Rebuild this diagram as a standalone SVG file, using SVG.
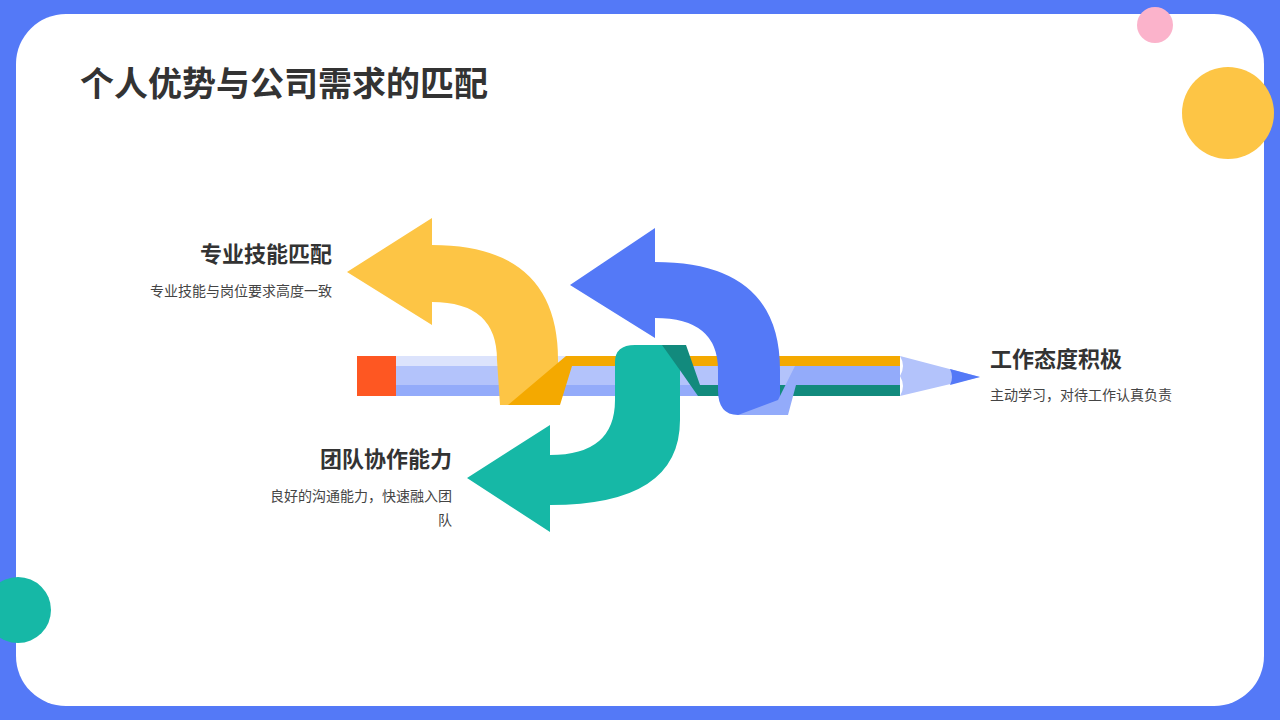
<svg xmlns="http://www.w3.org/2000/svg" width="1280" height="720" viewBox="0 0 1280 720">
<style>
.h{font-family:"Noto Sans CJK SC","Noto Sans",sans-serif;font-weight:700;fill:#333;font-size:22px}
.d{font-family:"Noto Sans CJK SC","Noto Sans",sans-serif;fill:#444;font-size:14px}
</style>
<rect width="1280" height="720" fill="#5479f7"/>
<rect x="16" y="14" width="1248" height="692" rx="50" fill="#fff"/>
<circle cx="1155" cy="25" r="18" fill="#fbb3cb"/>
<circle cx="1228" cy="113" r="46" fill="#fdc545"/>
<circle cx="18" cy="610" r="33" fill="#16b8a6"/>
<text x="80" y="96" font-family="Noto Sans CJK SC,sans-serif" font-weight="700" font-size="34" fill="#333">个人优势与公司需求的匹配</text>
<g id="pencil">
<rect x="357" y="356" width="39" height="40" fill="#fe5722"/>
<rect x="396" y="356" width="504" height="10" fill="#dce3fc"/>
<rect x="396" y="366" width="504" height="19" fill="#b3c3fb"/>
<rect x="396" y="385" width="504" height="11" fill="#93abfa"/>
<path d="M900,356 L980,377 L900,396 Q906,386 900,376 Q906,366 900,356Z" fill="#b3c3fb"/>
<path d="M950,369 L980,377 L950,385 Q954,377 950,369Z" fill="#5479f7"/>
</g>
<g id="connectors">
<g id="yellow">
<path d="M347,272 L432,218 L432,245 Q558,245 558,360 L558,405 L500,405 L497,360 Q497,302 432,302 L432,325 Z" fill="#fdc545"/>
<path d="M508,405 L560,405 L572,366 L900,366 L900,356 L566,356 Z" fill="#f4a900"/>
</g>
<g id="teal">
<path d="M467,478 L550,425 L550,455 Q615,455 615,400 L615,362 Q615,345 635,345 L662,345 Q680,345 680,362 L680,420 Q680,505 550,505 L550,532 Z" fill="#16b8a6"/>
<path d="M662,345 L686,345 L700,385 L900,385 L900,396 L698,396 Q680,370 662,345Z" fill="#128a7d"/>
</g>
<g id="blue">
<path d="M570,285 L655,228 L655,262 Q780,262 780,370 L780,415 L738,415 Q718,415 718,390 L718,370 Q718,318 655,318 L655,338 Z" fill="#5479f7"/>
<path d="M738,415 L788,415 L796,385 L900,385 L900,366 L795,366 L778,400 Z" fill="#93abfa"/>
</g>
</g>
<g id="n1"><text class="h" x="332" y="262" text-anchor="end">专业技能匹配</text><text class="d" x="332" y="296" text-anchor="end">专业技能与岗位要求高度一致</text></g>
<g id="n2"><text class="h" x="990" y="367">工作态度积极</text><text class="d" x="990" y="400">主动学习，对待工作认真负责</text></g>
<g id="n3"><text class="h" x="452" y="467" text-anchor="end">团队协作能力</text><text class="d" x="452" y="501" text-anchor="end">良好的沟通能力，快速融入团</text><text class="d" x="452" y="525" text-anchor="end">队</text></g>
</svg>
